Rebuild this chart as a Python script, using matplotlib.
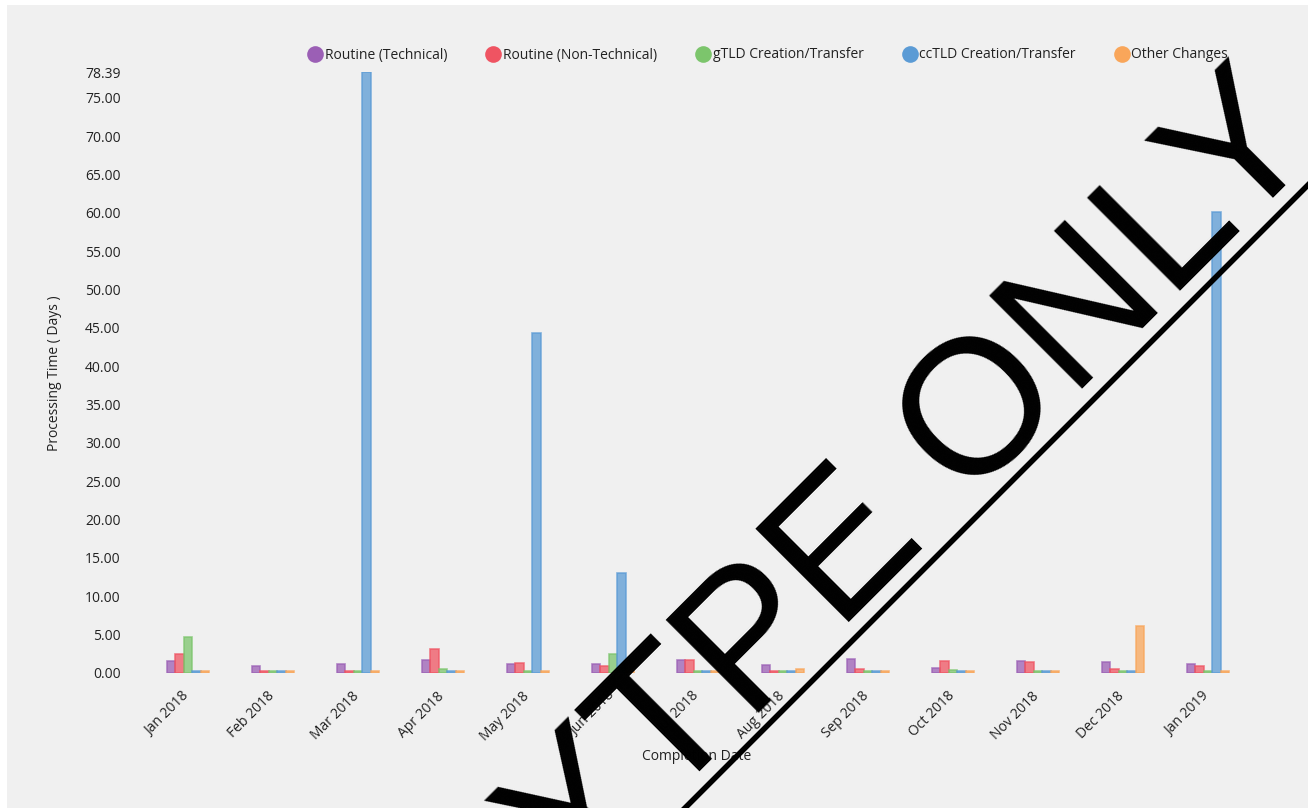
import matplotlib
matplotlib.use("Agg")
import matplotlib.pyplot as plt
from matplotlib.lines import Line2D
from matplotlib.patches import Rectangle
import numpy as np

months = ["Jan 2018", "Feb 2018", "Mar 2018", "Apr 2018", "May 2018", "Jun 2018",
          "Jul 2018", "Aug 2018", "Sep 2018", "Oct 2018", "Nov 2018", "Dec 2018",
          "Jan 2019"]
series_names = ["Routine (Technical)", "Routine (Non-Technical)",
                "gTLD Creation/Transfer", "ccTLD Creation/Transfer", "Other Changes"]
routine_tech = [1.57, 0.91, 1.13, 1.70, 1.13, 1.17, 1.65, 1.04, 1.87, 0.70, 1.57, 1.43, 1.13]
routine_nontech = [2.48, 0.25, 0.25, 3.09, 1.35, 0.90, 1.65, 0.25, 0.52, 1.57, 1.39, 0.52, 0.91]
gtld = [4.65, 0.25, 0.25, 0.57, 0.25, 2.48, 0.25, 0.25, 0.25, 0.39, 0.25, 0.25, 0.25]
cctld = [0.25, 0.25, 78.39, 0.25, 44.4, 13.04, 0.25, 0.25, 0.25, 0.25, 0.25, 0.25, 60.1]
other = [0.25, 0.25, 0.25, 0.25, 0.25, 0.25, 0.25, 0.52, 0.25, 0.25, 0.25, 6.13, 0.25]
y_ticks = [0, 5, 10, 15, 20, 25, 30, 35, 40, 45, 50, 55, 60, 65, 70, 75, 78.39]

edge_colors = ["#9b5fb5", "#ef5462", "#7cc56c", "#5b9bd5", "#f9a65a"]
series = [routine_tech, routine_nontech, gtld, cctld, other]

W, H = 1308, 808
fig = plt.figure(figsize=(W / 100, H / 100), dpi=100, facecolor="white")
fig.patches.append(Rectangle((7 / W, 0), 1, 1 - 5 / H, transform=fig.transFigure,
                             facecolor="#f0f0f0", edgecolor="none", zorder=-10))
plt.rcParams["font.family"] = ["Open Sans", "DejaVu Sans"]

ax = fig.add_axes([145.5 / W, (H - 673) / H, 1105 / W, 601 / H])
ax.set_facecolor("none")
x = np.arange(len(months))
bw = 0.1
for k, (vals, col) in enumerate(zip(series, edge_colors)):
    ax.bar(x + (k - 2) * bw, vals, width=bw, facecolor=col, alpha=0.75,
           edgecolor=col, linewidth=1.2, zorder=2)

ax.set_xlim(-0.5, len(months) - 0.5)
ax.set_ylim(0, 78.39)
ax.set_yticks(y_ticks)
ax.set_yticklabels([f"{v:.2f}" for v in y_ticks], fontsize=10, color="#222222")
ax.set_xticks(x)
ax.set_xticklabels([])
for i, m in enumerate(months):
    ax.annotate(m, xy=(i, 0), xycoords=("data", "axes fraction"),
                xytext=(-1, -21), textcoords="offset pixels", rotation=45,
                rotation_mode="anchor", ha="right", va="center", fontsize=10,
                color="#222222", annotation_clip=False)
ax.tick_params(length=0, pad=18)
for s in ax.spines.values():
    s.set_visible(False)

fig.text(55 / W, 1 - 373 / H, "Processing Time ( Days )", rotation=90,
         ha="center", va="center", fontsize=10, color="#222222")
fig.text(697 / W, 1 - 756 / H, "Completion Date", ha="center", va="center",
         fontsize=10, color="#222222")

handles = [Line2D([], [], marker="o", linestyle="none", markersize=12,
                  markerfacecolor=c, markeredgecolor="none") for c in edge_colors]
fig.legend(handles, series_names, loc="center", bbox_to_anchor=(769 / W, 1 - 55 / H),
           ncol=5, frameon=False, fontsize=10, handlelength=0.8, handletextpad=0.3,
           columnspacing=2.9, labelcolor="#222222")

# watermark, as drawn in the source (letters read "...YTPE ONLY")
fig.text(1325 / W, 1 - 146 / H, "PROTOYTPE ONLY", rotation=45, rotation_mode="anchor",
         ha="right", va="baseline", fontsize=138, family="Liberation Sans",
         color="black", zorder=20)
fig.add_artist(Line2D([685 / W, 1.0], [1 - 808 / H, 1 - 185 / H], color="black",
                      linewidth=4, transform=fig.transFigure, zorder=20))

fig.savefig("out.png", dpi=100, facecolor="white")
